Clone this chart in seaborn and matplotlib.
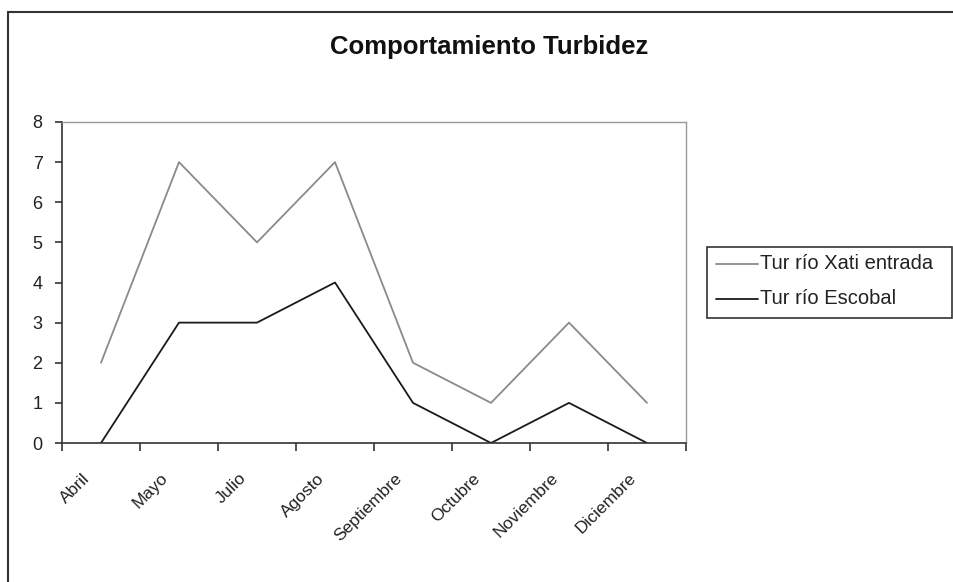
import pandas as pd
import numpy as np
import seaborn as sns
import matplotlib.pyplot as plt
from matplotlib.patches import Rectangle
import matplotlib.transforms as mtrans

# data
meses = ['Abril', 'Mayo', 'Julio', 'Agosto', 'Septiembre', 'Octubre', 'Noviembre', 'Diciembre']
xati_entrada = [2, 7, 5, 7, 2, 1, 3, 1]
escobal = [0, 3, 3, 4, 1, 0, 1, 0]
series_names = ['Tur río Xati entrada', 'Tur río Escobal']

df = pd.DataFrame({
    'Mes': meses * 2,
    'Turbidez': xati_entrada + escobal,
    'Serie': [series_names[0]] * len(meses) + [series_names[1]] * len(meses),
})

sns.set_style('white')
plt.rcParams['font.family'] = ['Liberation Sans', 'DejaVu Sans']

fig = plt.figure(figsize=(9.54, 5.82), dpi=100)
ax = fig.add_axes([62 / 954, 1 - 443 / 582, (686 - 62) / 954, (443 - 122) / 582])

sns.lineplot(data=df, x='Mes', y='Turbidez', hue='Serie', sort=False,
             palette={series_names[0]: '#8a8a8a', series_names[1]: '#1a1a1a'},
             linewidth=1.3, ax=ax, legend=False)

# axes limits and ticks (Excel style: ticks between categories)
ax.set_xlim(-0.5, len(meses) - 0.5)
ax.set_ylim(0, 8)
ax.set_yticks(range(0, 9))
ax.set_xticks(np.arange(-0.5, len(meses), 1.0))
ax.set_xticklabels([])
ax.set_xticks(range(len(meses)), minor=True)
ax.set_xticklabels(meses, minor=True, rotation=45, ha='right', fontsize=12.5, color='#222222')
ax.tick_params(axis='x', which='minor', bottom=True, length=0, pad=4)
ax.tick_params(axis='x', which='major', bottom=True, length=6, width=1.2, color='#333333',
               direction='out')
ax.tick_params(axis='y', left=True, length=5, width=1.2, color='#333333', direction='out',
               labelsize=13, labelcolor='#222222', pad=9)
for lbl in ax.get_xticklabels(minor=True):
    lbl.set_transform(lbl.get_transform() + mtrans.ScaledTranslation(-0.08, -0.22, fig.dpi_scale_trans))
ax.set_xlabel('')
ax.set_ylabel('')

for side in ['left', 'bottom']:
    ax.spines[side].set_color('#333333')
    ax.spines[side].set_linewidth(1.2)
for side in ['top', 'right']:
    ax.spines[side].set_color('#999999')
    ax.spines[side].set_linewidth(1.0)

fig.text(489 / 954, 1 - 47 / 582, 'Comportamiento Turbidez', ha='center', va='center',
         fontsize=18.5, fontweight='bold', color='#111111')

# legend
lx0, ly0 = 707, 247
leg_box = Rectangle((lx0 / 954, 1 - 318 / 582), (952 - lx0) / 954, (318 - ly0) / 582,
                    transform=fig.transFigure, fill=False, edgecolor='#333333', linewidth=1.2)
fig.patches.append(leg_box)
for i, (name, col) in enumerate(zip(series_names, ['#8a8a8a', '#1a1a1a'])):
    yy = 1 - (264 + i * 35) / 582
    fig.add_artist(plt.Line2D([716 / 954, 758 / 954], [yy, yy], transform=fig.transFigure,
                              color=col, linewidth=1.3))
    fig.text(760 / 954, yy, name, ha='left', va='center', fontsize=14.5, color='#222222')

# outer chart border
border = Rectangle((8 / 954, -0.05), 1.0, 1 - 12 / 582 + 0.05, transform=fig.transFigure,
                   fill=False, edgecolor='#333333', linewidth=1.5)
fig.patches.append(border)

fig.savefig('out.png', dpi=100)
